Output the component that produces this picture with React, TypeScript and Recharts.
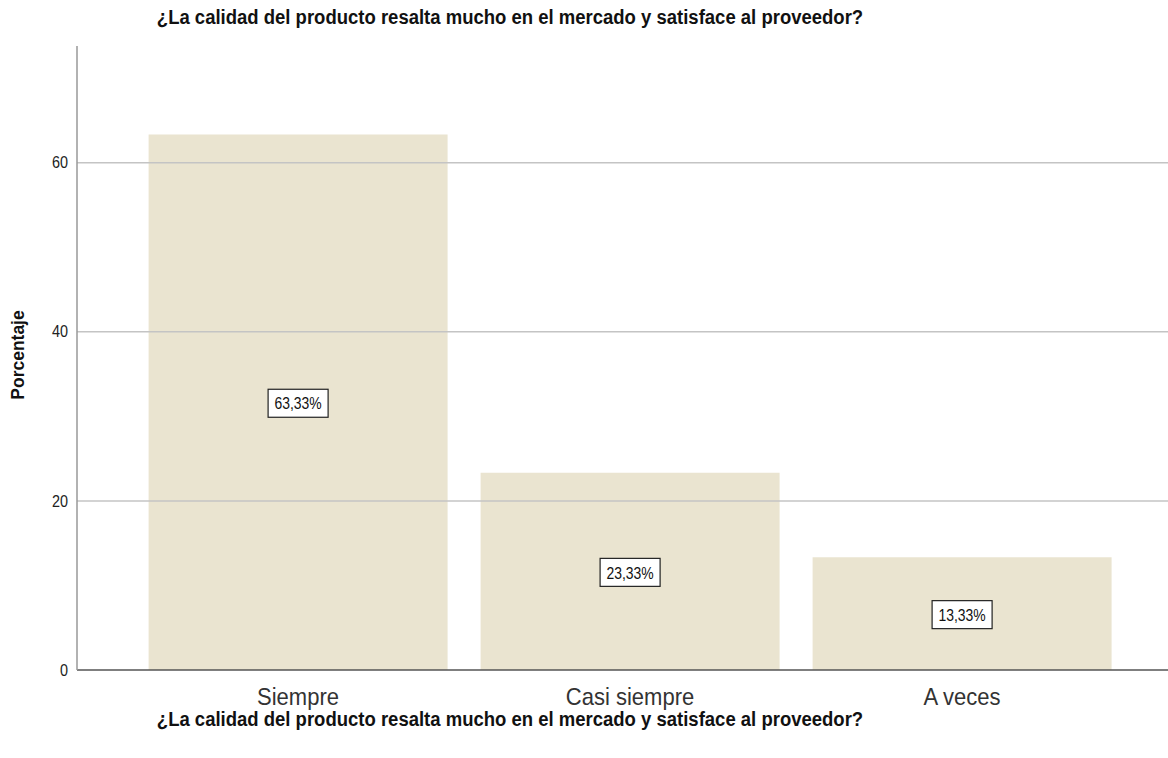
import { BarChart, Bar, XAxis, YAxis, ReferenceLine, LabelList } from "recharts";

const categories = ["Siempre", "Casi siempre", "A veces"];
const percentages = [63.33, 23.33, 13.33];
const yTicks = [0, 20, 40, 60];
const title = "¿La calidad del producto resalta mucho en el mercado y satisface al proveedor?";

const data = categories.map((c, i) => ({ category: c, value: percentages[i] }));

const FONT = "'Liberation Sans', Arial, sans-serif";

// SPSS text looks a bit narrow, so squeeze it horizontally
function NarrowText({ x, y, size, sx, anchor, dy, fill, children }: any) {
  return (
    <text
      transform={`translate(${x},${y}) scale(${sx},1)`}
      textAnchor={anchor}
      dy={dy}
      fontSize={size}
      fontFamily={FONT}
      fill={fill}
    >
      {children}
    </text>
  );
}

function XTick(props: any) {
  const { x, y, payload } = props;
  return (
    <NarrowText x={x} y={y} size={24} sx={0.917} anchor="middle" dy="0.71em" fill="#333">
      {payload.value}
    </NarrowText>
  );
}

function YTick(props: any) {
  const { x, y, payload } = props;
  return (
    <NarrowText x={x} y={y} size={16} sx={0.9} anchor="end" dy="0.355em" fill="#222">
      {payload.value}
    </NarrowText>
  );
}

function BoxLabel(props: any) {
  const { x, y, width, height, value } = props;
  const text = `${value.toFixed(2).replace(".", ",")}%`;
  const cx = x + width / 2;
  const cy = y + height / 2 + 1;
  const w = 60;
  const h = 28;
  return (
    <g>
      <rect x={cx - w / 2} y={cy - h / 2} width={w} height={h} fill="#ffffff" stroke="#222" strokeWidth={1.2} />
      <NarrowText x={cx} y={cy} size={17} sx={0.82} anchor="middle" dy="0.36em" fill="#111">
        {text}
      </NarrowText>
    </g>
  );
}

const titleStyle = {
  position: "absolute" as const,
  left: 0,
  width: 1020,
  textAlign: "center" as const,
  fontSize: 20,
  fontWeight: 700,
  color: "#111",
  transform: "scaleX(0.925)",
  transformOrigin: "510px 50%",
  whiteSpace: "nowrap" as const,
};

export default function App() {
  return (
    <div style={{ position: "absolute", left: 0, top: 0, width: 1168, height: 758, background: "#fff", fontFamily: FONT }}>
      <div style={{ ...titleStyle, top: 6 }}>{title}</div>
      <div style={{ ...titleStyle, top: 708 }}>{title}</div>
      <div
        style={{
          position: "absolute",
          left: 18,
          top: 355,
          transform: "translate(-50%, -50%) rotate(-90deg) scaleX(0.92)",
          fontSize: 19,
          fontWeight: 700,
          color: "#111",
          whiteSpace: "nowrap",
        }}
      >
        Porcentaje
      </div>
      <BarChart
        width={1168}
        height={758}
        data={data}
        margin={{ top: 46, right: 0, bottom: 44, left: 0 }}
        barCategoryGap="5%"
      >
        <XAxis
          dataKey="category"
          height={44}
          padding={{ left: 55, right: 40 }}
          tickLine={false}
          axisLine={{ stroke: "#555555", strokeWidth: 1.5 }}
          tick={<XTick />}
          tickMargin={12}
        />
        <YAxis
          width={77}
          domain={[0, 73.8]}
          ticks={yTicks}
          allowDataOverflow
          tickLine={false}
          axisLine={{ stroke: "#999999", strokeWidth: 1.5 }}
          tick={<YTick />}
          tickMargin={3}
        />
        {yTicks
          .filter((t) => t > 0)
          .map((t) => (
            <ReferenceLine key={t} y={t} stroke="#c4c4c4" strokeWidth={1.5} />
          ))}
        <Bar dataKey="value" fill="#eae4d0" isAnimationActive={false}>
          <LabelList dataKey="value" content={<BoxLabel />} />
        </Bar>
      </BarChart>
    </div>
  );
}
